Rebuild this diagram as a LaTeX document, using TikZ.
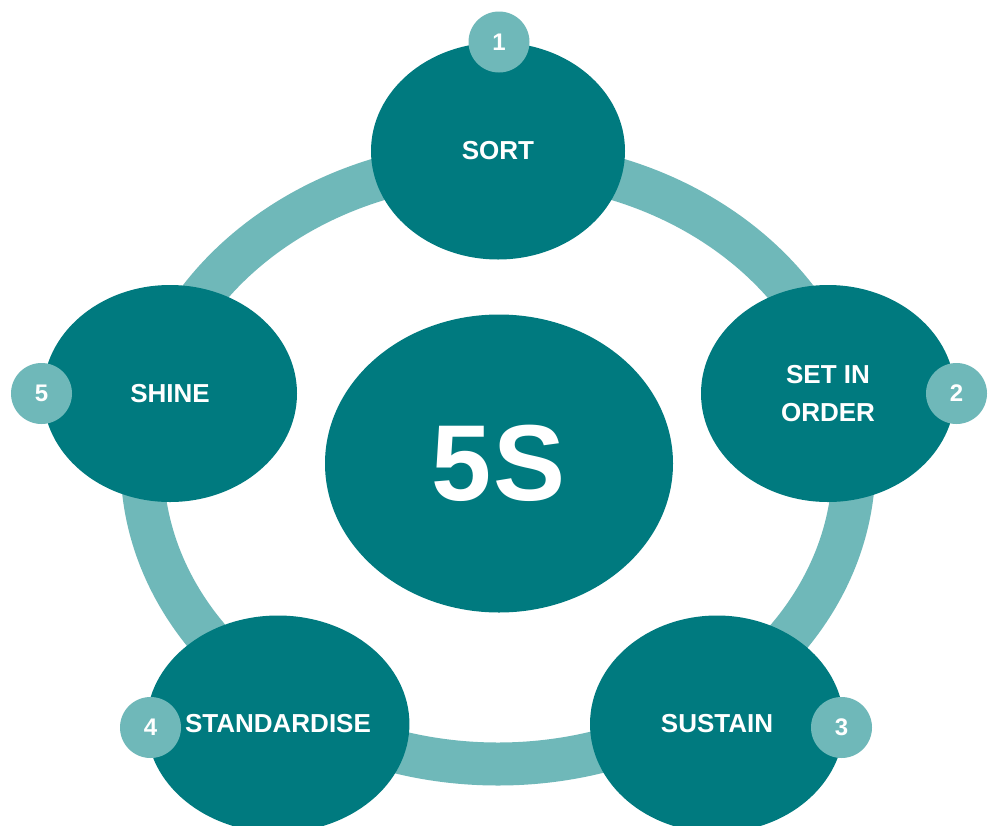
\documentclass[tikz,border=0pt]{standalone}
\usepackage{fontspec}
\setmainfont{Liberation Sans}
\usetikzlibrary{shapes.geometric}
\definecolor{darkteal}{HTML}{007A7F}
\definecolor{lightteal}{HTML}{6FB8B9}
\tikzset{
  stepnode/.style={ellipse, fill=darkteal, text=white, inner sep=0pt,
    minimum width=254pt, minimum height=217pt, align=center,
    font=\bfseries\fontsize{26}{37.5}\selectfont},
  numnode/.style={circle, fill=lightteal, text=white, inner sep=0pt,
    minimum size=61pt, font=\bfseries\fontsize{24}{28}\selectfont},
  hubnode/.style={ellipse, fill=darkteal, text=white, inner sep=0pt,
    minimum width=348pt, minimum height=298pt,
    font=\bfseries\fontsize{108}{120}\selectfont},
}
\begin{document}
\begin{tikzpicture}[x=1pt, y=-1pt]
\useasboundingbox (0,0) rectangle (993,825);
\fill[white] (0,0) rectangle (993,825);
% ring
\draw[line width=43pt, lightteal] (498,463) ellipse [x radius=356pt, y radius=301pt];
% hub
\node[hubnode] (hub) at (499,463.5) {5\kern2pt S};
% steps
\node[stepnode] (sort) at (498,151) {SORT};
\node[stepnode] (order) at (828,393.5) {SET IN\\ORDER};
\node[stepnode] (sustain) at (717,724) {SUSTAIN};
\node[stepnode] (standard) at (278,724) {STANDARDISE};
\node[stepnode] (shine) at (170,393.5) {SHINE};
% numbers
\node[numnode] (n1) at (499,42) {1};
\node[numnode] (n2) at (956.5,393.5) {2};
\node[numnode] (n3) at (841.5,727.5) {3};
\node[numnode] (n4) at (150.5,727.5) {4};
\node[numnode] (n5) at (41.5,393.5) {5};
\end{tikzpicture}
\end{document}
